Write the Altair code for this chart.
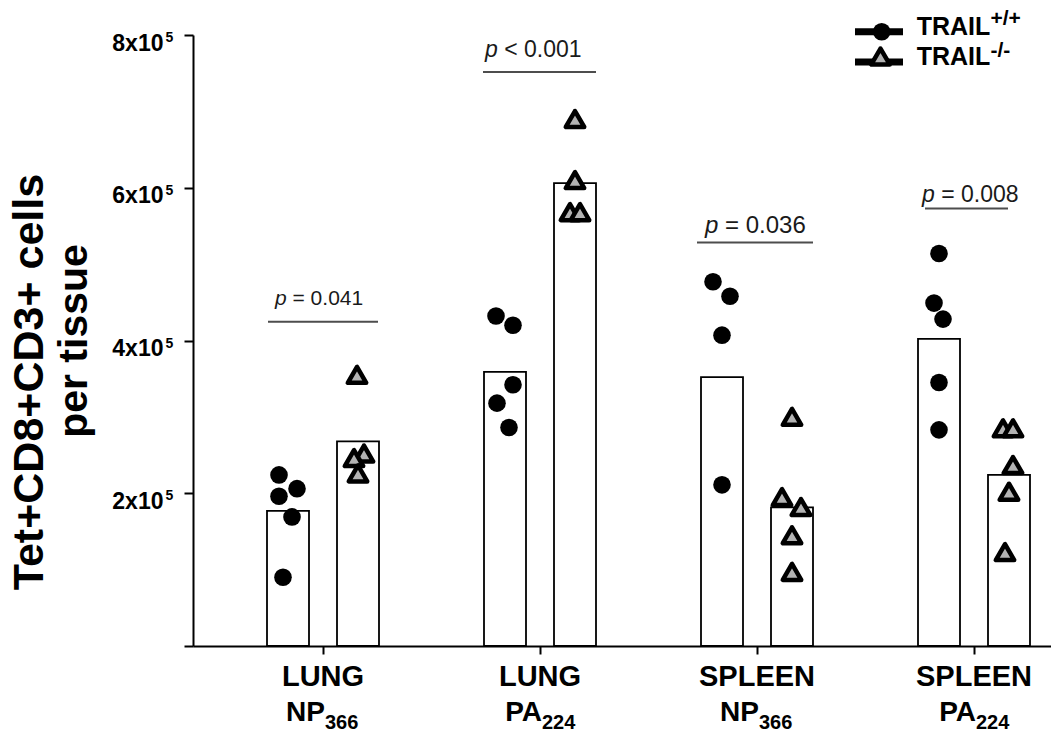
import altair as alt
import pandas as pd

# ---- data -----------------------------------------------------------------
tissues = ["LUNG", "LUNG", "SPLEEN", "SPLEEN"]
epitopes = ["NP", "PA", "NP", "PA"]
epitope_subs = ["366", "224", "366", "224"]

# group means (bars)
mean_wt = [1.77e5, 3.59e5, 3.52e5, 4.02e5]
mean_ko = [2.68e5, 6.06e5, 1.815e5, 2.24e5]

# individual mice
cells_wt = [
    [2.24e5, 2.06e5, 1.96e5, 1.69e5, 0.90e5],
    [4.32e5, 4.20e5, 3.42e5, 3.18e5, 2.86e5],
    [4.77e5, 4.58e5, 4.07e5, 2.11e5],
    [5.14e5, 4.49e5, 4.28e5, 3.45e5, 2.83e5],
]
cells_ko = [
    [3.55e5, 2.52e5, 2.46e5, 2.26e5],
    [6.90e5, 6.10e5, 5.68e5, 5.68e5],
    [3.00e5, 1.95e5, 1.82e5, 1.45e5, 0.97e5],
    [2.85e5, 2.85e5, 2.37e5, 2.02e5, 1.23e5],
]
# sideways scatter of each dot (pixels) so overlapping mice stay visible
spread_wt = [[-9, 9, -9, 4, -5], [-9, 8, 8, -8, 4], [-9, 8, 0, 0], [0, -5, 4, 0, 0]]
spread_ko = [[-1, 6, -4, 0], [0, 0, -5, 5], [0, -10, 9, 0, 0], [-6, 4, 4, 0, -4]]

# significance annotations
p_signs = ["=", "<", "=", "="]
p_numbers = ["0.041", "0.001", "0.036", "0.008"]
bracket_y = [4.245e5, 7.517e5, 5.284e5, 5.729e5]
p_text_y = [4.463e5, 7.713e5, 5.402e5, 5.815e5]

y_ticks = [0, 2e5, 4e5, 6e5, 8e5]

# ---- layout ---------------------------------------------------------------
FONT = "Liberation Sans, Arial, Helvetica, sans-serif"
NBSP = "\u00a0"
W, H = 858, 611
LEFT, TOP = 193, 35
STEP = 217.0          # pixels between neighbouring groups
FIRST = 130.0         # pixels from the y axis to the first group
X_DOMAIN = [1 - FIRST / STEP, 1 + (W - FIRST) / STEP]
GROUP_SHIFT = 35.0 / STEP
BAR_HALF = 21.0 / STEP

# per annotation: font size, text start, bracket left / right (pixels from group centre)
ANNOT_STYLE = [
    dict(size=21, start=-48, left=-55, right=55),
    dict(size=23, start=-55, left=-57, right=56),
    dict(size=24, start=-52, left=-60, right=56),
    dict(size=23, start=-52, left=-49, right=34),
]

xscale = alt.Scale(domain=X_DOMAIN, nice=False, zero=False)
yscale = alt.Scale(domain=[0, 8e5], nice=False, zero=True)

x_axis = alt.Axis(
    values=[1, 2, 3, 4], labels=False, title=None, grid=False,
    tickSize=8, tickWidth=2, tickColor="black", domainWidth=2, domainColor="black",
)
y_axis = alt.Axis(
    values=y_ticks, title=None, grid=False,
    labelExpr="datum.value == 0 ? '' : (datum.value / 100000) + 'x10'",
    labelFont=FONT, labelFontSize=23, labelFontWeight="bold", labelColor="black",
    labelPadding=21, labelBaseline="alphabetic", labelOffset=15, labelOverlap=False,
    tickSize=9, tickWidth=2, tickColor="black", domainWidth=2, domainColor="black",
)

cat_pos = [i + 1 for i in range(len(tissues))]

bars = pd.DataFrame({
    "center": [p - GROUP_SHIFT for p in cat_pos] + [p + GROUP_SHIFT for p in cat_pos],
    "mean": mean_wt + mean_ko,
})
bars["left"] = bars["center"] - BAR_HALF
bars["right"] = bars["center"] + BAR_HALF


def dots(values, spread, shift):
    rows = []
    for i, (vals, sp) in enumerate(zip(values, spread)):
        for v, s in zip(vals, sp):
            rows.append({"x": cat_pos[i] + shift + s / STEP, "cells": v})
    return pd.DataFrame(rows)


wt = dots(cells_wt, spread_wt, -GROUP_SHIFT)
ko = dots(cells_ko, spread_ko, GROUP_SHIFT)

CIRCLE = dict(shape="circle", filled=True, fill="black", stroke="black", strokeWidth=0,
              size=310, opacity=1)
TRIANGLE = dict(shape="triangle-up", filled=True, fill="#b3b3b3", stroke="black",
                strokeWidth=4.5, strokeJoin="round", size=340, opacity=1)

bar_layer = alt.Chart(bars).mark_rect(fill="white", stroke="black", strokeWidth=1.8).encode(
    x=alt.X("left:Q", scale=xscale, axis=x_axis),
    x2="right:Q",
    y=alt.Y("mean:Q", scale=yscale, axis=y_axis),
    y2=alt.datum(0),
)

wt_layer = alt.Chart(wt).mark_point(**CIRCLE).encode(
    x=alt.X("x:Q", scale=xscale, axis=x_axis),
    y=alt.Y("cells:Q", scale=yscale, axis=y_axis),
)

ko_layer = alt.Chart(ko).mark_point(**TRIANGLE).encode(
    x=alt.X("x:Q", scale=xscale, axis=x_axis),
    y=alt.Y("cells:Q", scale=yscale, axis=y_axis),
)

layers = [bar_layer, wt_layer, ko_layer]

# significance brackets and p values
for i, st in enumerate(ANNOT_STYLE):
    row = pd.DataFrame({
        "pos": [cat_pos[i]], "line": [bracket_y[i]], "ty": [p_text_y[i]],
        "rest": [f"{p_signs[i]}{NBSP}{p_numbers[i]}"], "p": ["p"],
    })
    base = alt.Chart(row)
    layers.append(base.mark_rule(color="#4d4d4d", strokeWidth=2,
                                 xOffset=st["left"], x2Offset=st["right"]).encode(
        x=alt.X("pos:Q", scale=xscale, axis=x_axis), x2="pos:Q",
        y=alt.Y("line:Q", scale=yscale, axis=y_axis),
    ))
    layers.append(base.mark_text(font=FONT, fontSize=st["size"], fontStyle="italic",
                                 align="left", baseline="alphabetic", color="#1a1a1a",
                                 dx=st["start"]).encode(
        x=alt.X("pos:Q", scale=xscale, axis=x_axis),
        y=alt.Y("ty:Q", scale=yscale, axis=y_axis), text="p:N",
    ))
    layers.append(base.mark_text(font=FONT, fontSize=st["size"], align="left",
                                 baseline="alphabetic", color="#1a1a1a",
                                 dx=st["start"] + 0.834 * st["size"]).encode(
        x=alt.X("pos:Q", scale=xscale, axis=x_axis),
        y=alt.Y("ty:Q", scale=yscale, axis=y_axis), text="rest:N",
    ))

# group labels under the x axis
cats = pd.DataFrame({"pos": cat_pos, "tissue": tissues, "ep": epitopes, "sub": epitope_subs})
cat_base = alt.Chart(cats)
layers.append(cat_base.mark_text(font=FONT, fontSize=29, fontWeight="bold", align="center",
                                 baseline="alphabetic", color="black").encode(
    x=alt.X("pos:Q", scale=xscale, axis=x_axis), y=alt.value(650.7), text="tissue:N"))
layers.append(cat_base.mark_text(font=FONT, fontSize=28, fontWeight="bold", align="right",
                                 baseline="alphabetic", color="black", dx=2).encode(
    x=alt.X("pos:Q", scale=xscale, axis=x_axis), y=alt.value(686), text="ep:N"))
layers.append(cat_base.mark_text(font=FONT, fontSize=20, fontWeight="bold", align="left",
                                 baseline="alphabetic", color="black", dx=2).encode(
    x=alt.X("pos:Q", scale=xscale, axis=x_axis), y=alt.value(694), text="sub:N"))

# exponent of the y tick labels
sup = pd.DataFrame({"v": y_ticks[1:], "e": ["5"] * (len(y_ticks) - 1)})
layers.append(alt.Chart(sup).mark_text(font=FONT, fontSize=14, fontWeight="bold", align="left",
                                       baseline="alphabetic", color="black", dy=7).encode(
    x=alt.value(-27.5), y=alt.Y("v:Q", scale=yscale, axis=y_axis), text="e:N"))

# y axis title, two lines
title_df = pd.DataFrame({"t1": ["Tet+CD8+CD3+ cells"], "t2": ["per tissue"]})
layers.append(alt.Chart(title_df).mark_text(font=FONT, fontSize=43, fontWeight="bold", angle=270,
                                            align="center", baseline="alphabetic",
                                            color="black").encode(
    x=alt.value(-150), y=alt.value(347), text="t1:N"))
layers.append(alt.Chart(title_df).mark_text(font=FONT, fontSize=41, fontWeight="bold", angle=270,
                                            align="center", baseline="alphabetic",
                                            color="black").encode(
    x=alt.value(-105.7), y=alt.value(306), text="t2:N"))

# legend (top right)
leg = pd.DataFrame({"name": ["TRAIL"], "wt": ["+/+"], "ko": ["-/-"]})
leg_base = alt.Chart(leg)
for ly in [-3.3, 27]:
    layers.append(leg_base.mark_rule(color="black", strokeWidth=7).encode(
        x=alt.value(662), x2=alt.value(710), y=alt.value(ly)))
layers.append(leg_base.mark_point(**CIRCLE).encode(x=alt.value(688.7), y=alt.value(-3.3)))
layers.append(leg_base.mark_point(**TRIANGLE).encode(x=alt.value(687.5), y=alt.value(21.5)))
for by, sy, col in [(0, -10, "wt:N"), (30, 21.7, "ko:N")]:
    layers.append(leg_base.mark_text(font=FONT, fontSize=25, fontWeight="bold", align="left",
                                     baseline="alphabetic", color="black").encode(
        x=alt.value(723.7), y=alt.value(by), text="name:N"))
    layers.append(leg_base.mark_text(font=FONT, fontSize=21, fontWeight="bold", align="left",
                                     baseline="alphabetic", color="black").encode(
        x=alt.value(797.5), y=alt.value(sy), text=col))

chart = alt.layer(*layers).properties(
    width=W, height=H,
    autosize=alt.AutoSizeParams(type="none"),
    padding={"left": LEFT, "top": TOP, "right": 0, "bottom": 88},
    background="white",
).configure_view(stroke=None)

chart.save("out.html", embed_options={"renderer": "svg", "actions": False})
